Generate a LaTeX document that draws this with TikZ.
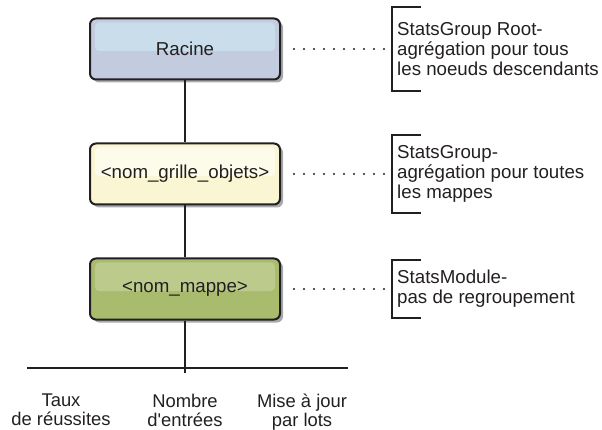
\documentclass[tikz,border=0pt]{standalone}
\usepackage{fontspec}
\setmainfont{Liberation Sans}
\usepackage{tikz}
\usetikzlibrary{positioning,shadows}
\definecolor{ink}{HTML}{231F20}
\definecolor{rootbg}{HTML}{C3CBDF}
\definecolor{roothi}{HTML}{CADDEA}
\definecolor{gridbg}{HTML}{FAF6D3}
\definecolor{gridhi}{HTML}{FDFBE9}
\definecolor{mapbg}{HTML}{A9BB6D}
\definecolor{maphi}{HTML}{BCCB8C}
\definecolor{shade}{HTML}{A7A9AC}
\tikzset{
  txt/.style={font=\fontsize{18.7}{20}\selectfont,text=ink},
  box/.style={txt,draw=ink,line width=2pt,rounded corners=6pt,
    minimum width=190pt,minimum height=61pt,inner sep=0pt,
    drop shadow={shadow xshift=3pt,shadow yshift=-3pt,fill=shade,opacity=1}},
  hilite/.style={path picture={\fill[#1,rounded corners=4pt]
    ([shift={(5pt,-4pt)}]path picture bounding box.north west) rectangle
    ([shift={(-5pt,-2pt)}]path picture bounding box.east);}},
  rootbox/.style={box,fill=rootbg,hilite=roothi},
  gridbox/.style={box,fill=gridbg,hilite=gridhi},
  mapbox/.style={box,fill=mapbg,hilite=maphi},
  wire/.style={draw=ink,line width=2pt},
  dots/.style={draw=ink,line width=2.4pt,line cap=round,
    dash pattern=on 0pt off 10pt,shorten <=13pt,shorten >=5pt},
  note/.style={txt,align=left,inner xsep=5pt,inner ysep=10pt},
  brk/.style={draw=ink,line width=2pt},
  lbl/.style={txt,align=center,inner sep=0pt,
    font=\fontsize{18.4}{19}\selectfont},
}
\begin{document}
\begin{tikzpicture}[x=1pt,y=1pt]
  \useasboundingbox (0,0) rectangle (602,-430);
  % tree of groups
  \node[rootbox] (root) at (185,-49) {Racine};
  \node[gridbox,below=62pt of root] (grid) {<nom\_grille\_objets>};
  \node[mapbox,below=52pt of grid] (map) {<nom\_mappe>};
  \draw[wire] (root) -- (grid);
  \draw[wire] (grid) -- (map);
  % notes on the right
  \node[note,right=111pt of root,minimum height=84pt] (rootnote)
    {StatsGroup Root-\\agrégation pour tous\\les noeuds descendants};
  \node[note,right=111pt of grid] (gridnote)
    {StatsGroup-\\agrégation pour toutes\\les mappes};
  \node[note,right=111pt of map] (mapnote)
    {StatsModule-\\pas de regroupement};
  \draw[dots] (root) -- (rootnote);
  \draw[dots] (grid) -- (gridnote);
  \draw[dots] (map) -- (mapnote);
  \foreach \n in {rootnote,gridnote,mapnote}
    \draw[brk] ([xshift=29pt]\n.north west) -- (\n.north west)
      -- (\n.south west) -- ([xshift=29pt]\n.south west);
  % statistics under the map
  \coordinate[below=52pt of map] (bus);
  \coordinate (busL) at (27,-368);
  \coordinate (busR) at (348,-368);
  \draw[wire] (map) -- (bus);
  \draw[wire] (busL) -- (busR);
  \node[lbl,below=21pt of bus,xshift=-124pt] (rate) {Taux\\de réussites};
  \node[lbl,below=21pt of bus] (count) {Nombre\\d\textquotesingle entrées};
  \node[lbl,below=21pt of bus,xshift=117pt] (batch) {Mise à jour\\par lots};
\end{tikzpicture}
\end{document}
